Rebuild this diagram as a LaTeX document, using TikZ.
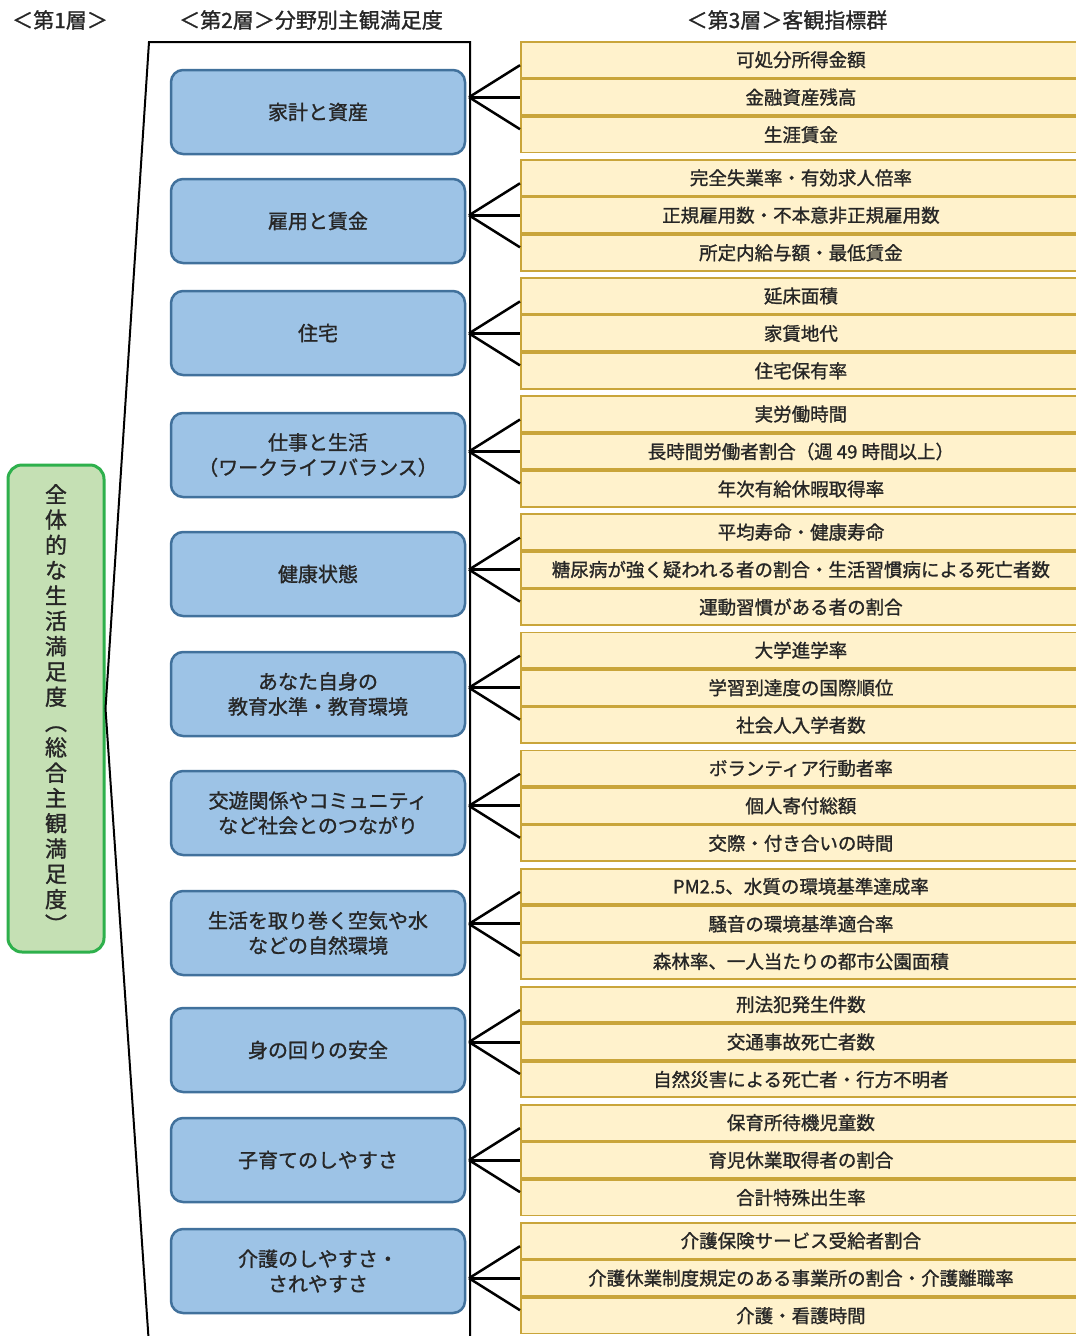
\documentclass[tikz,border=0pt]{standalone}
\usepackage{fontspec}
\setmainfont{Noto Sans CJK JP}[FakeBold=1.2]
\definecolor{bfill}{HTML}{9DC3E6}
\definecolor{bbord}{HTML}{41719C}
\definecolor{yfill}{HTML}{FFF2CC}
\definecolor{ybord}{HTML}{C9A53A}
\definecolor{gfill}{HTML}{C5E0B4}
\definecolor{gbord}{HTML}{2EB04C}
\definecolor{txt}{HTML}{262626}
\tikzset{
  bluebox/.style={draw=bbord, fill=bfill, line width=2.5pt, rounded corners=12pt,
    minimum width=294pt, minimum height=84pt, align=center, inner sep=0pt,
    font=\fontsize{20}{25}\selectfont, text=txt},
  yrow/.style={draw=ybord, fill=yfill, line width=1.8pt, minimum width=560pt,
    minimum height=35.67pt, anchor=north west, inner sep=0pt,
    font=\fontsize{18.5}{20}\selectfont, text=txt},
  greenbox/.style={draw=gbord, fill=gfill, line width=3pt, rounded corners=14pt,
    minimum width=96pt, minimum height=487pt, align=center, inner sep=0pt,
    font=\fontsize{22}{25.3}\selectfont, text=txt},
  link/.style={line width=2.5pt, black},
  midlink/.style={line width=3pt, black},
  frame/.style={line width=2pt, black},
  hdr/.style={font=\fontsize{21}{24}\selectfont, text=txt, inner sep=0pt}
}
\newcommand\ygroup[5]{%
  \node[yrow] (y#1a) at (520,#2) {#3};
  \node[yrow] (y#1b) at (y#1a.south west) {#4};
  \node[yrow] (y#1c) at (y#1b.south west) {#5};
  \coordinate (j#1) at (jx |- y#1b.west);
  \draw[link] (j#1) -- ([yshift=32pt]y#1b.west);
  \draw[midlink] (j#1) -- (y#1b.west);
  \draw[link] (j#1) -- ([yshift=-32pt]y#1b.west);
}
\begin{document}
\begin{tikzpicture}[x=1pt,y=-1pt]
\useasboundingbox[fill=white] (0,0) rectangle (1076,1336);
\coordinate (jx) at (469,0);

% headers
\node[hdr] (h1) at (60,20) {＜第1層＞};
\node[hdr] (h2) at (311,20) {＜第2層＞分野別主観満足度};
\node[hdr] (h3) at (787,20) {＜第3層＞客観指標群};

% green box
\node[greenbox] (g) at (56,708.5) {全\\体\\的\\な\\生\\活\\満\\足\\度\\︵\\総\\合\\主\\観\\満\\足\\度\\︶};

% frame bracket
\coordinate (ftl) at (149,42);
\coordinate (ftr) at (470,42);
\coordinate (fbr) at (470,1345);
\coordinate (fbl) at (149,1345);
\draw[frame] (fbl) -- (g.east) -- (ftl) -- (ftr) -- (fbr);

% yellow groups
\ygroup{1}{41}{可処分所得金額}{金融資産残高}{生涯賃金}
\ygroup{2}{159.1}{完全失業率・有効求人倍率}{正規雇用数・不本意非正規雇用数}{所定内給与額・最低賃金}
\ygroup{3}{277.2}{延床面積}{家賃地代}{住宅保有率}
\ygroup{4}{395.3}{実労働時間}{長時間労働者割合（週 49 時間以上）}{年次有給休暇取得率}
\ygroup{5}{513.4}{平均寿命・健康寿命}{糖尿病が強く疑われる者の割合・生活習慣病による死亡者数}{運動習慣がある者の割合}
\ygroup{6}{631.5}{大学進学率}{学習到達度の国際順位}{社会人入学者数}
\ygroup{7}{749.6}{ボランティア行動者率}{個人寄付総額}{交際・付き合いの時間}
\ygroup{8}{867.7}{PM2.5、水質の環境基準達成率}{騒音の環境基準適合率}{森林率、一人当たりの都市公園面積}
\ygroup{9}{985.8}{刑法犯発生件数}{交通事故死亡者数}{自然災害による死亡者・行方不明者}
\ygroup{10}{1103.9}{保育所待機児童数}{育児休業取得者の割合}{合計特殊出生率}
\ygroup{11}{1222}{介護保険サービス受給者割合}{介護休業制度規定のある事業所の割合・介護離職率}{介護・看護時間}

% blue boxes
\node[bluebox] (b1) at (318,112) {家計と資産};
\node[bluebox] (b2) at (318,221) {雇用と賃金};
\node[bluebox] (b3) at (318,333) {住宅};
\node[bluebox] (b4) at (318,455) {仕事と生活\\（ワークライフバランス）};
\node[bluebox] (b5) at (318,574) {健康状態};
\node[bluebox] (b6) at (318,694) {あなた自身の\\教育水準・教育環境};
\node[bluebox] (b7) at (318,813) {交遊関係やコミュニティ\\など社会とのつながり};
\node[bluebox] (b8) at (318,933) {生活を取り巻く空気や水\\などの自然環境};
\node[bluebox] (b9) at (318,1050) {身の回りの安全};
\node[bluebox] (b10) at (318,1160) {子育てのしやすさ};
\node[bluebox] (b11) at (318,1271) {介護のしやすさ・\\されやすさ};
\end{tikzpicture}
\end{document}
